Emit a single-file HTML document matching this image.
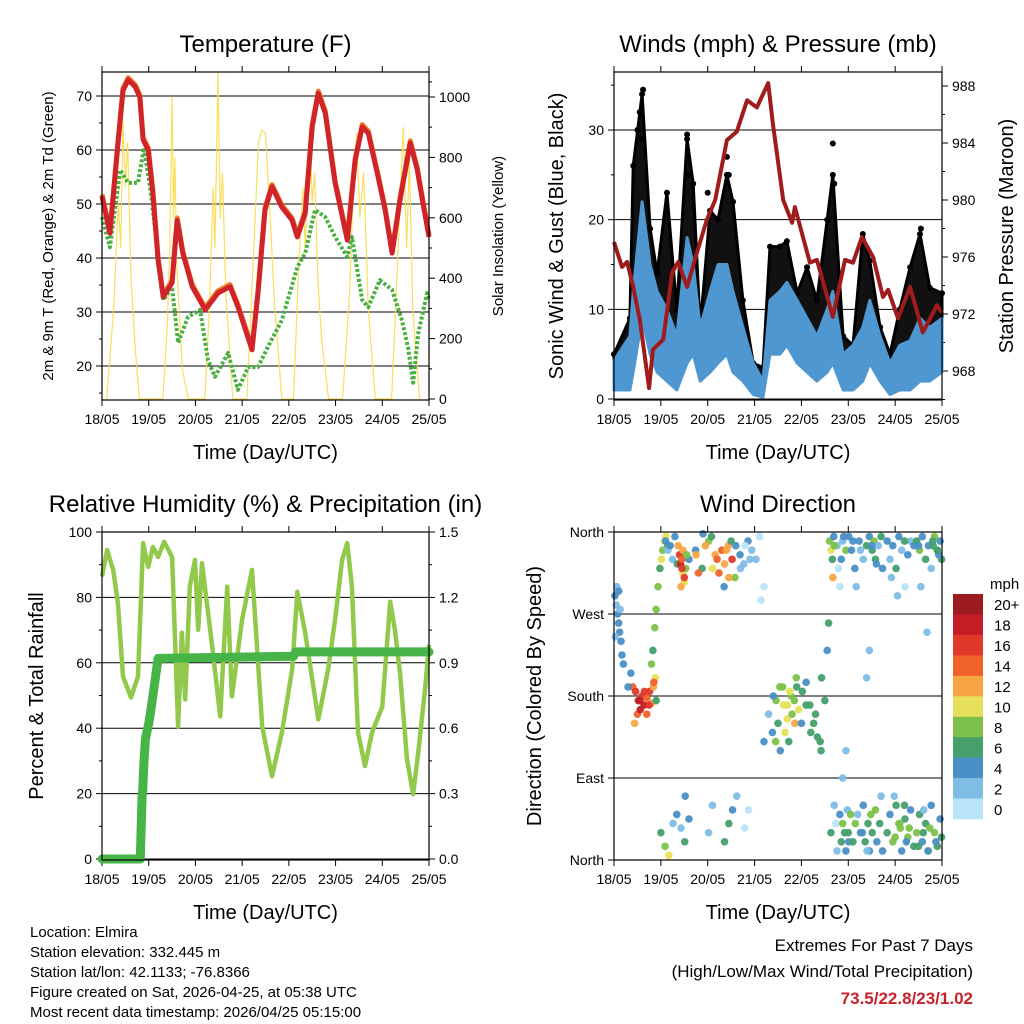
<!DOCTYPE html>
<html><head><meta charset="utf-8"><title>Station Meteogram</title>
<style>
html,body{margin:0;padding:0;background:#fff;}
svg{display:block;font-family:"Liberation Sans",Arial,sans-serif;}
</style></head>
<body>
<svg id="fig" width="1024" height="1024" viewBox="0 0 1024 1024" xmlns="http://www.w3.org/2000/svg">
<rect x="0" y="0" width="1024" height="1024" fill="#fff"/>
<g id="layer"></g>
<text x="30" y="937" font-size="15">Location: Elmira</text>
<text x="30" y="957" font-size="15">Station elevation: 332.445 m</text>
<text x="30" y="977" font-size="15">Station lat/lon: 42.1133; -76.8366</text>
<text x="30" y="997" font-size="15">Figure created on Sat, 2026-04-25, at 05:38 UTC</text>
<text x="30" y="1017" font-size="15">Most recent data timestamp: 2026/04/25 05:15:00</text>
<text x="973" y="951" font-size="17" text-anchor="end">Extremes For Past 7 Days</text>
<text x="973" y="977" font-size="17" text-anchor="end">(High/Low/Max Wind/Total Precipitation)</text>
<text x="973" y="1004" font-size="17" font-weight="bold" fill="#c8232c" text-anchor="end">73.5/22.8/23/1.02</text>
</svg>
<script>
// ---- data ----
const dayLabels = ["18/05","19/05","20/05","21/05","22/05","23/05","24/05","25/05"];
const tempTicks = [20,30,40,50,60,70];
const solarTicks = [0,200,400,600,800,1000];
const windTicks = [0,10,20,30];
const presTicks = [968,972,976,980,984,988];
const rhTicks = [0,20,40,60,80,100];
const rainTicks = ["0.0","0.3","0.6","0.9","1.2","1.5"];
const dirLabels = ["North","East","South","West","North"];
const speedBins = ["0","2","4","6","8","10","12","14","16","18","20+"];

const tempT = [0,.17,.34,.45,.56,.71,.81,.88,.99,1.09,1.2,1.31,1.5,1.61,1.73,1.93,2.21,2.48,2.74,2.91,3.21,3.34,3.49,3.64,3.85,4.07,4.18,4.35,4.5,4.63,4.78,4.99,5.25,5.42,5.57,5.7,5.91,6.06,6.21,6.38,6.6,6.75,6.87,7];
const tempV = [51.4,44.6,61,71,73,71.7,69.8,61.9,60,52,39.6,32.8,35.4,47,40.9,34.7,30.4,33.5,34.7,31,23,33.5,48.9,53.2,49.4,47,43.9,48.3,64.3,70.5,66.8,53.9,43.3,58.1,64.3,63.1,55,48.9,40.9,50.7,61.3,56.3,50.2,43.9];
const dewT = [0,.17,.39,.56,.77,.9,1.03,1.18,1.31,1.5,1.63,1.84,2.1,2.27,2.42,2.7,2.91,3.13,3.34,3.55,3.85,4.18,4.35,4.56,4.78,4.99,5.25,5.35,5.57,5.7,5.95,6.21,6.42,6.55,6.66,6.77,6.96,7];
const dewV = [47.6,42,56.3,53.9,53.9,60.4,53.1,42,32.2,34.6,24.3,29.1,30.4,21.1,18,22.4,15.6,19.8,19.8,23.5,28.5,38.3,40.9,48.9,47.6,43.9,40.2,43.9,32.2,30.9,35.9,34.1,28.5,23.5,16.9,26.1,33.5,32.2];
const solarT = [0.1,0.25,0.35,0.4,0.45,0.5,0.55,0.62,0.72,0.8,1.3,1.4,1.45,1.5,1.53,1.56,1.6,1.65,1.72,1.85,2.2,2.3,2.38,2.42,2.48,2.53,2.58,2.65,2.8,3.1,3.25,3.35,3.42,3.5,3.6,3.7,3.85,4.1,4.2,4.3,4.35,4.45,4.5,4.55,4.62,4.7,4.85,5.15,5.3,5.38,5.45,5.52,5.6,5.7,5.85,6.2,6.3,6.38,6.45,6.52,6.58,6.65,6.72,6.8];
const solarV = [0,300,650,500,920,700,850,400,150,0,0,250,500,1000,600,800,450,300,100,0,0,300,700,500,1080,600,750,350,0,0,500,850,890,880,600,300,0,0,400,700,500,900,650,750,400,200,0,0,350,700,880,600,750,300,0,0,350,650,900,500,800,300,150,0];

const windT = [0,.34,.41,.6,.77,.92,1.13,1.34,1.56,1.69,1.84,2.05,2.22,2.41,2.54,2.75,2.97,3.18,3.33,3.54,3.69,3.91,4.12,4.33,4.55,4.67,4.89,5.1,5.31,5.46,5.68,5.89,6.1,6.32,6.53,6.74,7];
const windHigh = [4.3,7,12,22,15,12,10,7,18,15,8,12,15,15,12,8,4,2,11,12,13,11,9,7,10,12,5,6,8,11,7,4,6,6.5,9,8,9];
const windLow = [1,1,3,9,5,3,2,1,4,5,2,3,4,5,3,2,0.5,0.2,5,5,6,4,3,2,3,4,1,1,2,4,2,0.5,1,1,2,2,3];
const gustV = [5,9,26,34,19,14,23,10,29,24,8,21,20,25,22,11,4,3.5,17,17,17.6,11.8,14.7,11,20,25,7,6,18.4,15.4,8,5,10,14.7,18.4,12.4,11.8];
const gustExtraT = [.55,.58,.62,.5,1.56,1.6,2.41,2.45,4.67,4.7,2.0,6.55];
const gustExtraV = [32,29,34.5,30,29.5,25,27,25,28.5,24,23,19];
const presT = [0,.17,.28,.41,.55,.75,.83,1.05,1.24,1.37,1.56,1.77,1.98,2.16,2.41,2.62,2.84,3.05,3.29,3.39,3.61,3.8,3.86,4.18,4.33,4.67,4.93,5.1,5.29,5.53,5.74,5.85,6.06,6.32,6.59,6.89,7];
const presV = [977.05,975.3,975.65,973.9,971.6,966.8,969.5,970.2,974.9,975.65,973.9,976.3,978.6,980,984.2,984.8,987,986.5,988.2,985.4,980,978.4,979.5,975.6,975.8,971.8,975.8,975.6,977.4,976,973.2,973.7,971.7,973.9,970.7,972.6,972.1];

const rhT = [0,.11,.24,.34,.45,.62,.77,.88,.99,1.09,1.2,1.33,1.5,1.63,1.71,1.78,1.88,1.99,2.06,2.14,2.36,2.53,2.68,2.78,3.0,3.21,3.43,3.64,3.85,4.07,4.18,4.35,4.63,4.84,4.99,5.14,5.25,5.35,5.48,5.63,5.78,6.0,6.17,6.27,6.38,6.53,6.66,6.77,6.92,7];
const rhV = [86.4,94.5,88.4,78.3,55.8,49.4,55.8,96.6,89.3,95.4,92.4,97,92.4,40.5,69.2,48.8,83.3,91.5,70.1,90.5,65,43.6,83.3,49.7,73.2,88.4,40.5,25.3,38.7,57.9,81.7,69.2,42.7,57.9,73.2,91.5,96.6,83.3,38.7,28.4,38.7,46.6,78.7,70.1,57,30.5,19.8,32.6,52.7,65.5];
const rainT = [0,.82,.84,.86,.87,.9,.93,.96,1.0,1.05,1.2,4.1,4.15,7];
const rainV = [0,0,0.15,0.3,0.3,0.45,0.55,0.58,0.62,0.69,0.92,0.93,0.95,0.95];

const dirT = [0.02,0.05,0.08,0.1,0.12,0.15,0.17,0.2,0.03,0.06,0.1,0.13,
0.4,0.46,0.52,0.6,0.64,0.7,0.76,0.8,0.5,0.56,0.84,0.88,0.9,0.44,0.36,0.3,
0.8,0.83,0.87,0.9,0.94,0.98,1.01,1.04,1.08,1.11,1.15,
1.1,1.15,1.2,1.25,1.3,1.35,
1.37,1.4,1.42,1.45,1.47,1.5,1.53,1.43,1.47,
1.6,1.74,1.88,2.02,2.16,2.3,2.36,2.44,2.52,2.24,2.58,2.08,1.9,
2.6,2.69,2.77,2.86,2.94,3.03,3.11,3.2,3.14,
1.0,1.09,1.17,1.26,1.34,1.43,1.51,1.6,1.52,2.02,2.1,2.36,2.45,2.53,2.62,2.79,2.87,3.2,
3.3,3.38,3.46,3.54,3.62,3.7,3.78,3.86,3.94,4.02,4.1,4.18,4.26,4.34,4.42,4.5,3.73,3.55,3.89,4.43,4.58,4.55,
4.6,4.63,4.66,4.69,4.76,4.79,4.82,4.85,4.88,4.95,5.01,5.07,5.14,5.17,5.1,4.67,
4.63,4.7,4.73,4.76,4.82,4.85,4.88,4.92,4.95,4.98,5.01,
5.23,5.26,5.32,5.39,5.45,5.51,5.55,5.58,5.64,5.7,5.73,
5.2,5.26,5.32,5.36,5.42,5.45,5.48,5.51,5.58,5.61,5.67,5.73,5.7,
4.88,4.95,5.39,5.45,
5.83,5.89,5.95,6.02,6.08,6.14,6.21,6.27,6.33,6.4,5.92,6.05,
5.83,5.89,5.95,6.02,6.08,6.14,6.21,6.27,6.33,6.4,5.98,6.11,6.24,
6.46,6.52,6.58,6.65,6.71,6.77,6.84,6.9,6.96,6.99,6.55,6.68,6.81,6.93,
6.46,6.52,6.58,6.65,6.71,6.77,6.84,6.9,6.96,6.99,6.61,6.74,6.87,
1.75,1.8,1.95,2.1,2.2,2.4,2.45,1.45,1.5,1.55,2.7,2.8,2.9,2.5,2.35,
3.5,3.6,3.7,3.8,3.85,3.9,4.0,4.1,4.2,4.3,4.4,3.4,3.45,3.65,3.75,
5.0,5.05,5.1,5.15,5.3,5.4,6.0,6.1,6.2,6.3,6.5,6.6,6.7,
4.7,4.9,5.5,5.6,6.2,6.5,6.8,6.9,
0.55,0.65,0.75,0.85,0.7];
const dirD = [290,280,270,260,250,240,225,215,245,300,295,275,
190,185,175,180,170,178,185,172,160,165,190,200,175,150,205,190,
215,230,255,275,300,320,330,340,350,355,345,
350,340,345,330,355,325,
345,335,325,330,315,305,320,300,340,
330,340,320,350,335,340,325,345,330,315,310,355,358,
345,335,325,350,340,330,355,300,285,
30,15,5,40,50,35,20,45,70,30,60,20,40,55,70,35,55,130,
160,140,175,190,170,155,180,150,165,185,195,170,150,135,120,175,130,120,200,200,260,230,
350,340,330,355,345,320,300,330,350,340,355,340,320,300,350,310,
30,60,40,10,50,20,40,30,10,55,20,
350,340,330,345,355,340,350,330,345,355,320,
50,30,60,20,40,10,50,30,55,20,40,10,70,
90,120,200,230,
350,330,345,320,355,340,300,335,350,345,310,290,
30,50,20,60,40,10,45,25,55,15,70,35,20,
350,340,355,330,345,320,355,340,350,330,300,250,345,335,
30,50,20,40,10,60,30,15,45,25,55,35,20,
335,315,345,320,330,340,310,320,310,335,320,345,330,350,300,
150,190,170,160,175,190,150,170,140,160,130,180,130,140,185,
30,50,20,40,30,10,25,40,60,35,15,30,10,
345,355,345,325,350,345,350,340,
175,185,170,195,160];
const dirS = [3,2,4,4,3,4,4,4,2,2,4,2,
14,16,18,16,18,14,16,12,14,18,12,10,6,12,4,4,
8,6,8,8,8,6,10,8,10,10,6,
4,2,4,2,4,6,
12,16,18,14,10,10,8,12,12,
4,4,6,8,12,14,12,12,16,14,8,6,4,
4,4,2,4,2,2,0,0,0,
6,8,10,2,4,2,6,4,4,2,2,6,6,4,2,0,0,4,
2,4,8,8,10,10,8,12,10,6,4,6,6,6,6,6,6,4,8,6,6,4,
8,10,6,4,2,0,0,4,2,8,4,4,4,2,4,12,
6,2,0,2,4,6,8,6,4,2,4,
4,2,2,6,4,6,8,6,2,6,4,
2,4,4,6,6,4,8,6,8,4,6,4,2,
2,2,2,2,
4,2,4,6,4,2,0,4,2,4,2,2,
6,4,8,6,8,4,6,8,4,6,2,8,4,
6,8,4,6,4,2,8,6,4,6,2,2,6,4,
8,6,4,6,8,4,8,6,4,6,2,8,4,
12,14,12,10,14,12,12,16,16,8,2,0,2,6,4,
6,8,10,8,8,6,4,6,6,6,6,4,8,10,10,
6,8,6,8,4,2,8,8,6,8,6,6,4,
8,4,4,4,6,4,6,6,
18,16,16,14,14];

// ---- rendering ----
const NS = "http://www.w3.org/2000/svg";
const layer = document.getElementById("layer");
function mk(tag, attrs, parent){
  const e = document.createElementNS(NS, tag);
  for (const k in attrs) e.setAttribute(k, attrs[k]);
  (parent||layer).appendChild(e);
  return e;
}
function txt(x,y,s,size,anchor,parent,extra){
  const e = mk("text",Object.assign({x:x,y:y,"font-size":size,"text-anchor":anchor||"start"},extra||{}),parent);
  e.textContent = s;
  return e;
}
function linear(d0,d1,r0,r1){ return v => r0 + (v-d0)/(d1-d0)*(r1-r0); }
function pathD(ts,vs,sx,sy){ return ts.map((t,i)=>(i?"L":"M")+sx(t).toFixed(1)+","+sy(vs[i]).toFixed(1)).join(""); }

function frame(p){
  const g = mk("g",{});
  
  
  const sx = linear(0,7,p.x0,p.x1);
  for (let d=0; d<=7; d++){
    const x = sx(d);
    mk("line",{x1:x,x2:x,y1:p.y1,y2:p.y1+6,stroke:"#000","stroke-width":1},g);
    mk("line",{x1:x,x2:x,y1:p.y0,y2:p.y0-6,stroke:"#000","stroke-width":1},g);
    const t = txt(x,p.y1+24,dayLabels[d],14,"middle",g);
    
    
  }
  const xt = txt((p.x0+p.x1)/2,p.y1+59,"Time (Day/UTC)",20,"middle",g);
  
  
  const tt = txt((p.x0+p.x1)/2,p.y0-20,p.title,24,"middle",g);
  
  
  return {g:g,sx:sx};
}
function box(p,g){
  const r = mk("rect",{x:p.x0,y:p.y0,width:p.x1-p.x0,height:p.y1-p.y0,fill:"none",stroke:"#000","stroke-width":1.2},g);
  
  
}
function yAxis(g,vals,labels,sy,x,side,grid,p,minor){
  vals.forEach((v,i)=>{
    const y = sy(v);
    if (grid) {
      const gl = mk("line",{x1:p.x0,x2:p.x1,y1:y,y2:y,stroke:"#000","stroke-width":1},g);
      
      
    }
    const dx = side==="left" ? -6 : 6;
    mk("line",{x1:x,x2:x+dx,y1:y,y2:y,stroke:"#000","stroke-width":1},g);
    const t = txt(side==="left"?x-10:x+10,y+5,labels[i],14,side==="left"?"end":"start",g);
    
    
  });
  if (minor) minor.forEach(v=>{
    const y = sy(v);
    mk("line",{x1:x,x2:x+(side==="left"?-3:3),y1:y,y2:y,stroke:"#000","stroke-width":1},g);
  });
}
function vTitle(x,y,s,size,g,name){
  const t = txt(x,y,s,size,"middle",g,{transform:"rotate(-90 "+x+" "+y+")"});
  
  
}

// Panel 1: temperature
(function(){
  const p = {x0:102,x1:429,y0:72,y1:400,name:"temperature",title:"Temperature (F)"};
  const f = frame(p); const g = f.g; const sx = f.sx;
  const sy = linear(20,70,366,96);
  const sy2 = linear(0,1000,399,97);
  yAxis(g,tempTicks,tempTicks.map(String),sy,p.x0,"left",true,p,[15,25,35,45,55,65,75].filter(v=>sy(v)>p.y0));
  yAxis(g,solarTicks,solarTicks.map(String),sy2,p.x1,"right",false,p,[100,300,500,700,900,1050].filter(v=>sy2(v)>p.y0));
  const sol = mk("path",{d:pathD(solarT,solarV,sx,sy2),fill:"none",stroke:"#f8dc4a","stroke-width":1.2,opacity:0.9},g);
  
  
  const dew = mk("path",{d:pathD(dewT,dewV,sx,sy),fill:"none",stroke:"#4bb043","stroke-width":4,"stroke-dasharray":"3 2","stroke-linejoin":"round"},g);
  
  
  const t9 = mk("path",{d:pathD(tempT,tempV.map(v=>v+0.4),sx,sy),fill:"none",stroke:"#f07f2a","stroke-width":5,"stroke-linejoin":"round"},g);
  
  
  const t2 = mk("path",{d:pathD(tempT,tempV,sx,sy),fill:"none",stroke:"#d0232a","stroke-width":5,"stroke-linejoin":"round"},g);
  
  
  box(p,g);
  vTitle(53,236,"2m & 9m T (Red, Orange) & 2m Td (Green)",15,g,"y-axis-title");
  vTitle(503,236,"Solar Insolation (Yellow)",15,g,"y2-axis-title");
})();

// Panel 2: winds & pressure
(function(){
  const p = {x0:614,x1:942,y0:72,y1:400,name:"winds",title:"Winds (mph) & Pressure (mb)"};
  const f = frame(p); const g = f.g; const sx = f.sx;
  const sy = linear(0,30,399,130);
  const sy2 = linear(968,988,371,86);
  yAxis(g,windTicks,windTicks.map(String),sy,p.x0,"left",true,p,[5,15,25,35]);
  yAxis(g,presTicks,presTicks.map(String),sy2,p.x1,"right",false,p,[966,970,974,978,982,986]);
  let d = pathD(windT,gustV,sx,sy);
  for (let i=windT.length-1;i>=0;i--) d += "L"+sx(windT[i]).toFixed(1)+","+sy(windHigh[i]).toFixed(1);
  const gb = mk("path",{d:d+"Z",fill:"#111",stroke:"#000","stroke-width":3,"stroke-linejoin":"round"},g);
  
  
  windT.forEach((t,i)=>{
    const c = mk("circle",{cx:sx(t),cy:sy(gustV[i]),r:3,fill:"#000"},g);
    
    
  });
  gustExtraT.forEach((t,i)=>{
    const c = mk("circle",{cx:sx(t),cy:sy(gustExtraV[i]),r:3,fill:"#000"},g);
    
    
  });
  let w = pathD(windT,windHigh,sx,sy);
  for (let i=windT.length-1;i>=0;i--) w += "L"+sx(windT[i]).toFixed(1)+","+sy(windLow[i]).toFixed(1);
  const wb = mk("path",{d:w+"Z",fill:"#4f97d0",stroke:"#4f97d0","stroke-width":3,"stroke-linejoin":"round"},g);
  
  
  const pr = mk("path",{d:pathD(presT,presV,sx,sy2),fill:"none",stroke:"#a01c1c","stroke-width":4,"stroke-linejoin":"round"},g);
  
  
  box(p,g);
  vTitle(563,236,"Sonic Wind & Gust (Blue, Black)",20,g,"y-axis-title");
  vTitle(1013,236,"Station Pressure (Maroon)",20,g,"y2-axis-title");
})();

// Panel 3: RH & precipitation
(function(){
  const p = {x0:102,x1:429,y0:532,y1:860,name:"humidity",title:"Relative Humidity (%) & Precipitation (in)"};
  const f = frame(p); const g = f.g; const sx = f.sx;
  const sy = linear(0,100,859,532);
  const sy2 = linear(0,1.5,859,532);
  yAxis(g,rhTicks,rhTicks.map(String),sy,p.x0,"left",true,p,[10,30,50,70,90]);
  yAxis(g,rainTicks.map(Number),rainTicks,sy2,p.x1,"right",false,p,[0.15,0.45,0.75,1.05,1.35]);
  const rh = mk("path",{d:pathD(rhT,rhV,sx,sy),fill:"none",stroke:"#92c94c","stroke-width":4.5,"stroke-linejoin":"round"},g);
  
  
  const rn = mk("path",{d:pathD(rainT,rainV,sx,sy2),fill:"none",stroke:"#46b447","stroke-width":9,"stroke-linejoin":"round","stroke-linecap":"round"},g);
  
  
  box(p,g);
  vTitle(43,696,"Percent & Total Rainfall",20,g,"y-axis-title");
})();

// Panel 4: wind direction
(function(){
  const p = {x0:614,x1:942,y0:532,y1:860,name:"wind-direction",title:"Wind Direction"};
  const f = frame(p); const g = f.g; const sx = f.sx;
  const sy = linear(0,360,860,532);
  yAxis(g,[0,90,180,270,360],dirLabels,sy,p.x0,"left",true,p,null);
  const cols = ["#b9e3f8","#7fbde6","#4a8fc6","#45a06c","#7cc14a","#e7e05a","#f7a445","#f0622a","#e0382a","#c41e25","#9b1b1e"];
  dirT.forEach((t,i)=>{
    const bin = Math.min(10,Math.max(0,Math.round(dirS[i]/2)));
    const c = mk("circle",{cx:sx(t),cy:sy(dirD[i]),r:3.8,fill:cols[bin],opacity:0.95},g);
    
    
  });
  box(p,g);
  vTitle(541,696,"Direction (Colored By Speed)",20,g,"y-axis-title");
  const cb = mk("g",{});
  
  
  const top = 594, h = 225/11;
  txt(990,589,"mph",15,"start",cb);
  for (let k=10;k>=0;k--){
    const y = top + (10-k)*h;
    const r = mk("rect",{x:953,y:y,width:30,height:h+0.3,fill:cols[k]},cb);
    
    
    const t = txt(994,y+h/2+6,speedBins[k],15,"start",cb);
    
    
  }
})();
</script>
</body></html>
